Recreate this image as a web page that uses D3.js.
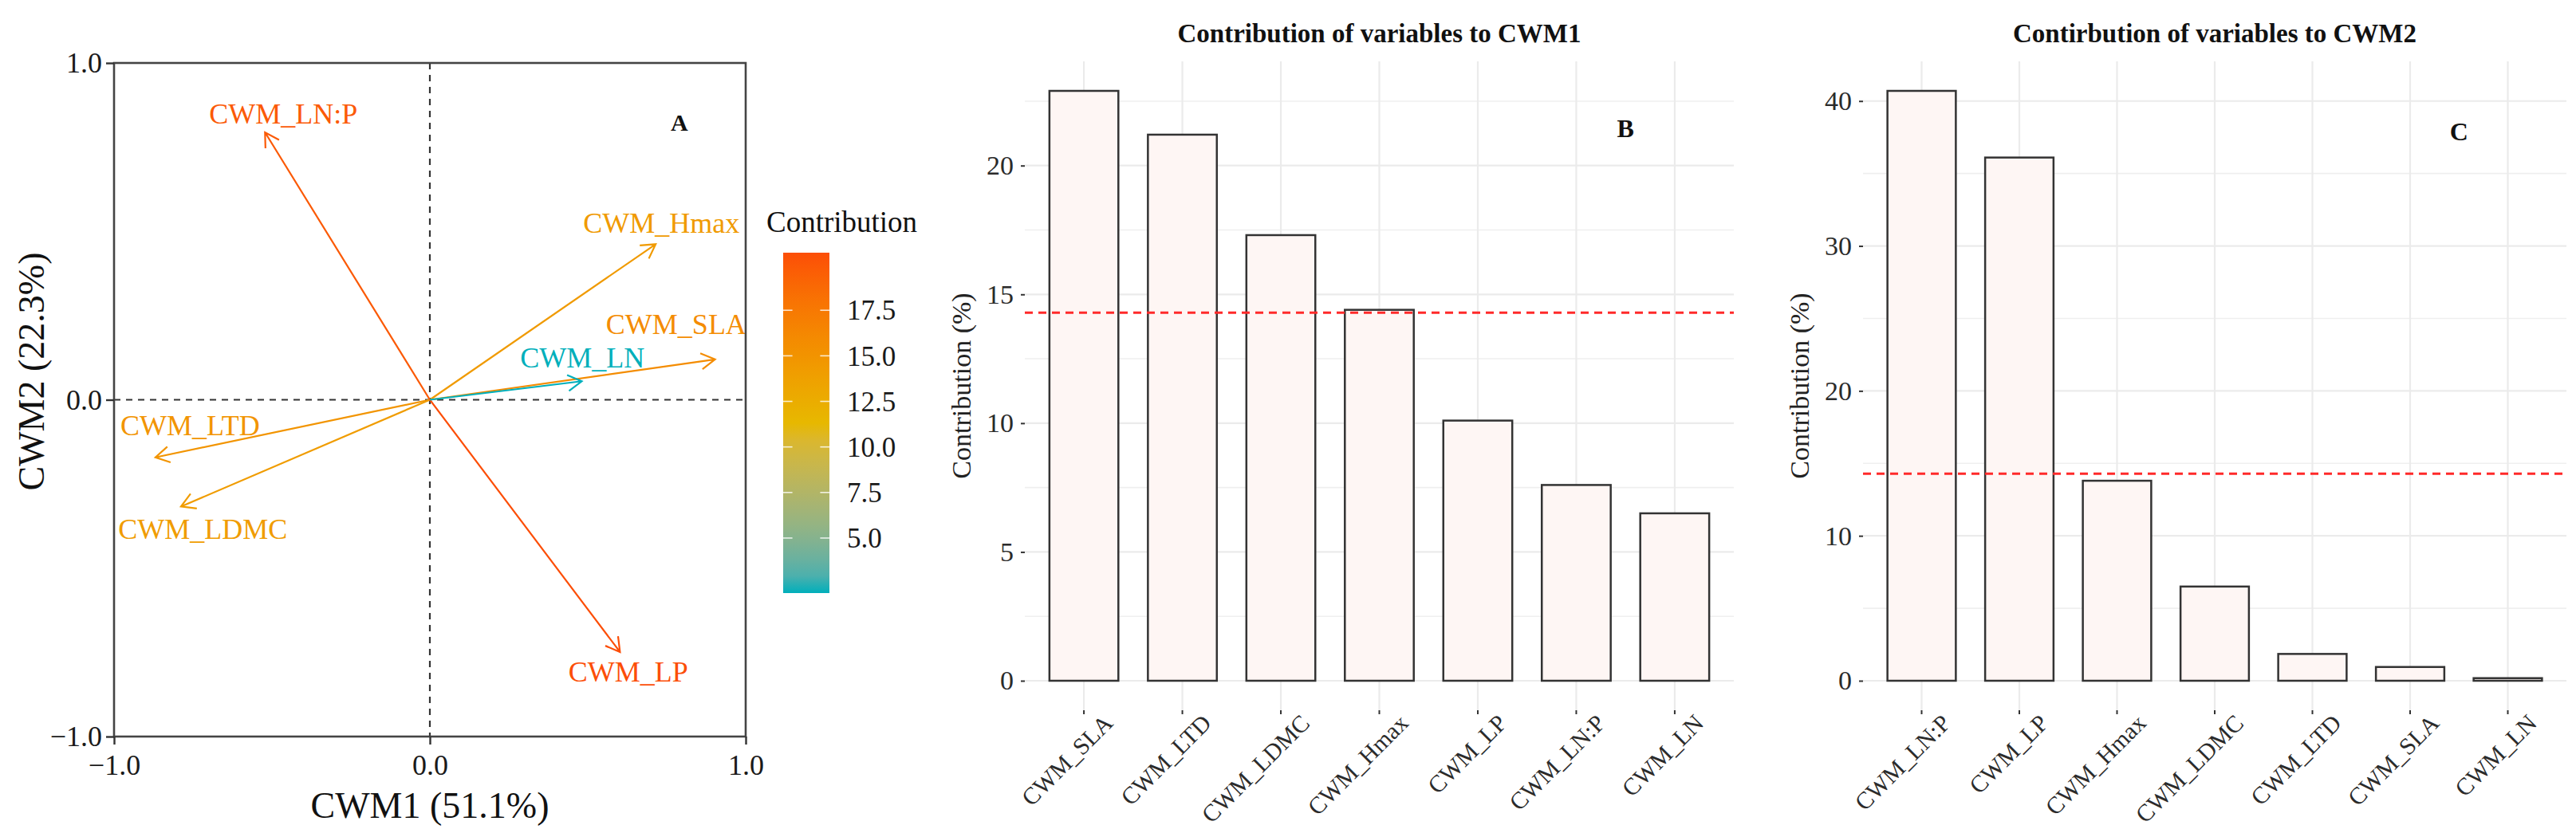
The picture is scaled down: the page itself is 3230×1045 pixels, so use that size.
<!DOCTYPE html>
<html><head><meta charset="utf-8">
<script src="https://cdn.jsdelivr.net/npm/d3@7"></script>
<style>
body{margin:0;background:#fff}
svg{display:block}
text{font-family:"Liberation Serif","Times New Roman",serif}
</style>
</head><body>
<svg id="chart" width="3230" height="1045"></svg>
<script>
// ---------- data: panel A (PCA variable loadings) ----------
const vars = ["CWM_SLA","CWM_LTD","CWM_LDMC","CWM_Hmax","CWM_LP","CWM_LN:P","CWM_LN"];
const pc1 = [0.903,-0.869,-0.788,0.715,0.602,-0.522,0.481];
const pc2 = [0.120,-0.171,-0.317,0.462,-0.749,0.794,0.055];
const arrowContrib = [15.8,15.0,14.2,14.4,20.66,19.9,1.98];
const labelX = [0.780,-0.759,-0.719,0.733,0.628,-0.464,0.483];
const labelY = [0.195,-0.106,-0.413,0.497,-0.837,0.819,0.095];
const axisTicksA = [-1,0,1];
const legendTicks = [5,7.5,10,12.5,15,17.5];
const gradientColors = ["#00AFBB","#E7B800","#FC4E07"];

// ---------- data: panels B and C (contributions) ----------
const cwm1Cats = ["CWM_SLA","CWM_LTD","CWM_LDMC","CWM_Hmax","CWM_LP","CWM_LN:P","CWM_LN"];
const cwm1Vals = [22.9,21.2,17.3,14.4,10.1,7.6,6.5];
const cwm2Cats = ["CWM_LN:P","CWM_LP","CWM_Hmax","CWM_LDMC","CWM_LTD","CWM_SLA","CWM_LN"];
const cwm2Vals = [40.7,36.1,13.8,6.5,1.85,0.95,0.18];
const cwm1Ticks = [0,5,10,15,20];
const cwm2Ticks = [0,10,20,30,40];
const expectedContrib = 100/7;

const svg = d3.select("#chart");
svg.append("rect").attr("width",3230).attr("height",1045).attr("fill","#fff");

// ================= Panel A =================
const A = {l:143, r:935, t:79, b:924};
const xA = d3.scaleLinear().domain([-1,1]).range([A.l,A.r]);
const yA = d3.scaleLinear().domain([-1,1]).range([A.b,A.t]);
const ext = d3.extent(arrowContrib);
const col = d3.scaleLinear().domain([ext[0],(ext[0]+ext[1])/2,ext[1]]).range(gradientColors).interpolate(d3.interpolateLab);
const gA = svg.append("g");

gA.append("line").attr("x1",xA(0)).attr("x2",xA(0)).attr("y1",A.t).attr("y2",A.b)
  .attr("stroke","#333").attr("stroke-width",2.2).attr("stroke-dasharray","8,7");
gA.append("line").attr("y1",yA(0)).attr("y2",yA(0)).attr("x1",A.l).attr("x2",A.r)
  .attr("stroke","#333").attr("stroke-width",2.2).attr("stroke-dasharray","8,7");

vars.forEach((v,i)=>{
  const x0=xA(0), y0=yA(0), x1=xA(pc1[i]), y1=yA(pc2[i]);
  const c = col(arrowContrib[i]);
  const ang = Math.atan2(y0-y1, x0-x1);
  const L = 20, da = Math.PI/6;
  const p = d3.path();
  p.moveTo(x0,y0); p.lineTo(x1,y1);
  p.moveTo(x1+L*Math.cos(ang+da), y1+L*Math.sin(ang+da)); p.lineTo(x1,y1);
  p.lineTo(x1+L*Math.cos(ang-da), y1+L*Math.sin(ang-da));
  gA.append("path").attr("d",p.toString()).attr("fill","none").attr("stroke",c)
    .attr("stroke-width",2.2).attr("stroke-linejoin","miter");
  gA.append("text").attr("x",xA(labelX[i])).attr("y",yA(labelY[i])).attr("text-anchor","middle")
    .attr("font-size",36).attr("fill",c).text(v);
});

gA.append("rect").attr("x",A.l).attr("y",A.t).attr("width",A.r-A.l).attr("height",A.b-A.t)
  .attr("fill","none").attr("stroke","#444").attr("stroke-width",2.6);

const axL = gA.append("g").attr("transform",`translate(${A.l},0)`)
  .call(d3.axisLeft(yA).tickValues(axisTicksA).tickSize(10).tickPadding(5).tickFormat(d3.format(".1f")));
const axB = gA.append("g").attr("transform",`translate(0,${A.b})`)
  .call(d3.axisBottom(xA).tickValues(axisTicksA).tickSize(10).tickPadding(12).tickFormat(d3.format(".1f")));
[axL,axB].forEach(a=>{
  a.select(".domain").remove();
  a.selectAll(".tick line").attr("stroke","#333").attr("stroke-width",2.4);
  a.selectAll("text").attr("font-size",36).attr("fill","#1a1a1a")
    .style("font-family",'"Liberation Serif","Times New Roman",serif');
});

gA.append("text").attr("x",xA(0.79)).attr("y",yA(0.80)).attr("text-anchor","middle")
  .attr("font-size",30).attr("font-weight","bold").attr("fill","#111").text("A");
gA.append("text").attr("x",xA(0)).attr("y",1026).attr("text-anchor","middle")
  .attr("font-size",46).attr("fill","#111").text("CWM1 (51.1%)");
gA.append("text").attr("transform","translate(55,466) rotate(-90)").attr("text-anchor","middle")
  .attr("font-size",46).attr("fill","#111").text("CWM2 (22.3%)");

// legend
const Lg = {x:982, w:58, t:317, b:744};
const yL = d3.scaleLinear().domain(ext).range([Lg.b,Lg.t]);
const defs = svg.append("defs");
const grad = defs.append("linearGradient").attr("id","cg").attr("x1",0).attr("x2",0).attr("y1",1).attr("y2",0);
d3.range(0,1.0001,0.05).forEach(t=>{
  grad.append("stop").attr("offset",t).attr("stop-color",col(ext[0]+t*(ext[1]-ext[0])));
});
svg.append("text").attr("x",961).attr("y",291).attr("font-size",37).attr("fill","#111").text("Contribution");
svg.append("rect").attr("x",Lg.x).attr("y",Lg.t).attr("width",Lg.w).attr("height",Lg.b-Lg.t).attr("fill","url(#cg)");
legendTicks.forEach(v=>{
  const y=yL(v);
  svg.append("line").attr("x1",Lg.x).attr("x2",Lg.x+Lg.w/5).attr("y1",y).attr("y2",y).attr("stroke","#fff").attr("stroke-opacity",0.8).attr("stroke-width",1.6);
  svg.append("line").attr("x1",Lg.x+Lg.w*4/5).attr("x2",Lg.x+Lg.w).attr("y1",y).attr("y2",y).attr("stroke","#fff").attr("stroke-opacity",0.8).attr("stroke-width",1.6);
  svg.append("text").attr("x",1062).attr("y",y).attr("dy","0.35em").attr("font-size",35).attr("fill","#1a1a1a").text(d3.format(".1f")(v));
});

// ================= Panels B and C =================
function barPanel(o){
  const g = svg.append("g");
  const max = d3.max(o.vals);
  const x = d3.scaleBand().domain(o.cats).range([o.l,o.r]).paddingInner(0.3).paddingOuter(0.25);
  const y = d3.scaleLinear().domain([-0.05*max,1.05*max]).range([o.b,o.t]);
  const step = x.step();
  const minor = [];
  for(let i=0;i<o.ticks.length;i++){ const m=o.ticks[i]+(o.ticks[1]-o.ticks[0])/2; if(m<=1.05*max) minor.push(m); }
  g.selectAll(".mn").data(minor).join("line").attr("x1",o.l).attr("x2",o.r).attr("y1",d=>y(d)).attr("y2",d=>y(d))
    .attr("stroke","#EFEFEF").attr("stroke-width",1.6);
  g.selectAll(".mj").data(o.ticks).join("line").attr("x1",o.l).attr("x2",o.r).attr("y1",d=>y(d)).attr("y2",d=>y(d))
    .attr("stroke","#EBEBEB").attr("stroke-width",2.2);
  g.selectAll(".vg").data(o.cats).join("line").attr("x1",d=>x(d)+x.bandwidth()/2).attr("x2",d=>x(d)+x.bandwidth()/2)
    .attr("y1",o.t).attr("y2",o.b).attr("stroke","#EBEBEB").attr("stroke-width",2.2);
  g.selectAll(".bar").data(o.vals).join("rect")
    .attr("x",(d,i)=>x(o.cats[i])).attr("width",x.bandwidth())
    .attr("y",d=>y(d)).attr("height",d=>y(0)-y(d))
    .attr("fill","#FEF6F4").attr("stroke","#333").attr("stroke-width",2.5);
  g.append("line").attr("x1",o.l).attr("x2",o.r).attr("y1",y(expectedContrib)).attr("y2",y(expectedContrib))
    .attr("stroke","#FF2A2A").attr("stroke-width",3).attr("stroke-dasharray","10,7");
  const ay = g.append("g").attr("transform",`translate(${o.l},0)`)
    .call(d3.axisLeft(y).tickValues(o.ticks).tickSize(5).tickPadding(9).tickFormat(d3.format("d")));
  ay.select(".domain").remove();
  ay.selectAll(".tick line").attr("stroke","#333").attr("stroke-width",2);
  ay.selectAll("text").attr("font-size",34).attr("fill","#2b2b2b").style("font-family",'"Liberation Serif","Times New Roman",serif');
  const ax = g.append("g").attr("transform",`translate(0,${o.b})`)
    .call(d3.axisBottom(x).tickSize(5).tickFormat(""));
  ax.select(".domain").remove();
  ax.selectAll(".tick line").attr("stroke","#333").attr("stroke-width",2);
  g.selectAll(".xl").data(o.cats).join("text")
    .attr("transform",d=>`translate(${x(d)+x.bandwidth()/2+38},${o.b+18}) rotate(-45)`)
    .attr("text-anchor","end").attr("font-size",30).attr("fill","#2b2b2b").text(d=>d);
  g.append("text").attr("x",(o.l+o.r)/2).attr("y",53).attr("text-anchor","middle")
    .attr("font-size",33).attr("font-weight","bold").attr("fill","#111").text(o.title);
  g.append("text").attr("transform",`translate(${o.l-68},${(o.t+o.b)/2}) rotate(-90)`).attr("text-anchor","middle")
    .attr("font-size",34).attr("fill","#222").text("Contribution (%)");
  g.append("text").attr("x",o.l+step*6.1).attr("y",y(o.letterVal)).attr("text-anchor","middle")
    .attr("font-size",32).attr("font-weight","bold").attr("fill","#111").text(o.letter);
}

barPanel({cats:cwm1Cats, vals:cwm1Vals, ticks:cwm1Ticks, l:1285, r:2174, t:77, b:891,
  title:"Contribution of variables to CWM1", letter:"B", letterVal:21.1});
barPanel({cats:cwm2Cats, vals:cwm2Vals, ticks:cwm2Ticks, l:2336, r:3218, t:77, b:891,
  title:"Contirbution of variables to CWM2", letter:"C", letterVal:37.3});
</script>
</body></html>
